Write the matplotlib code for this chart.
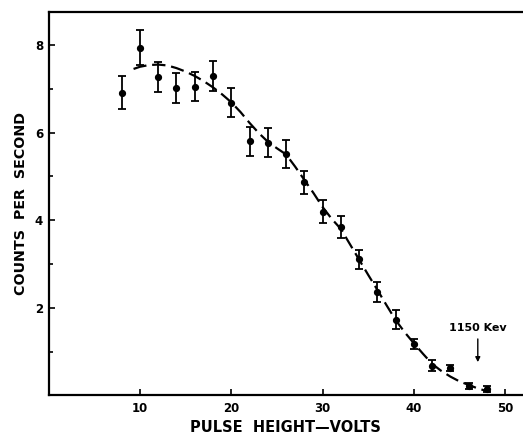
import matplotlib
matplotlib.use("Agg")
import matplotlib.pyplot as plt
from matplotlib.ticker import MultipleLocator

# Measured data (pulse height in volts, counts per second, error)
pulse_volts = [8, 10, 12, 14, 16, 18, 20, 22, 24, 26, 28, 30, 32, 34, 36, 38, 40, 42, 44, 46, 48]
counts = [6.91, 7.93, 7.27, 7.02, 7.04, 7.29, 6.68, 5.80, 5.77, 5.51, 4.86, 4.19, 3.84,
          3.11, 2.36, 1.73, 1.17, 0.68, 0.63, 0.22, 0.14]
count_err = [0.37, 0.40, 0.34, 0.34, 0.33, 0.34, 0.33, 0.33, 0.34, 0.32, 0.27, 0.26, 0.25,
             0.22, 0.22, 0.22, 0.12, 0.13, 0.07, 0.07, 0.07]

# Dashed fitted curve
curve_x = [9.3, 10, 11, 12, 13, 14, 15, 16, 17, 18, 19, 20, 21, 22, 23, 24, 25, 26, 27, 28,
           29, 30, 31, 32, 33, 34, 35, 36, 37, 38, 39, 40, 41, 42, 43, 44, 45, 46, 47, 48.3]
curve_y = [7.45, 7.50, 7.54, 7.55, 7.53, 7.47, 7.39, 7.29, 7.17, 7.03, 6.87, 6.69, 6.47, 6.22,
           5.99, 5.79, 5.64, 5.50, 5.22, 4.92, 4.62, 4.30, 4.03, 3.80, 3.45, 3.10, 2.75, 2.41,
           2.06, 1.72, 1.44, 1.19, 0.95, 0.72, 0.56, 0.43, 0.32, 0.24, 0.16, 0.08]

x_ticks = [10, 20, 30, 40, 50]
y_ticks = [2, 4, 6, 8]
annot_label = "1150 Kev"
annot_x = 47.0

fig = plt.figure(figsize=(5.23, 4.36), dpi=100)
ax = fig.add_axes([0.093, 0.093, 0.907, 0.8795])

ax.plot(curve_x, curve_y, color="black", lw=1.6, dashes=(6.0, 2.6), solid_capstyle="butt")
ax.errorbar(pulse_volts, counts, yerr=count_err, fmt="o", color="black", ms=4.2,
            elinewidth=1.3, capsize=2.6, capthick=1.3)

ax.annotate(annot_label, xy=(annot_x, 0.76), xytext=(annot_x, 1.53),
            ha="center", va="center", fontsize=8, fontweight="bold",
            arrowprops=dict(arrowstyle="-|>", color="black", lw=1.0, mutation_scale=7,
                            shrinkA=2, shrinkB=0))

ax.set_xlim(0, 51.95)
ax.set_ylim(0, 8.75)
ax.set_xticks(x_ticks)
ax.set_yticks(y_ticks)
ax.yaxis.set_minor_locator(MultipleLocator(1))
ax.tick_params(which="both", direction="in", width=1.2)
ax.tick_params(which="major", length=4, labelsize=8.5)
ax.tick_params(axis="x", pad=5)
ax.tick_params(axis="y", pad=4)
ax.tick_params(which="minor", length=3)
for lbl in ax.get_xticklabels() + ax.get_yticklabels():
    lbl.set_fontweight("bold")

ax.spines["right"].set_visible(False)
for s in ["left", "top", "bottom"]:
    ax.spines[s].set_linewidth(1.6)

ax.set_xlabel("PULSE  HEIGHT\u2014VOLTS", fontsize=10.5, fontweight="bold", labelpad=3)
ax.set_ylabel("COUNTS  PER  SECOND", fontsize=10.3, fontweight="bold", labelpad=5)

fig.savefig("out.png", dpi=100)
